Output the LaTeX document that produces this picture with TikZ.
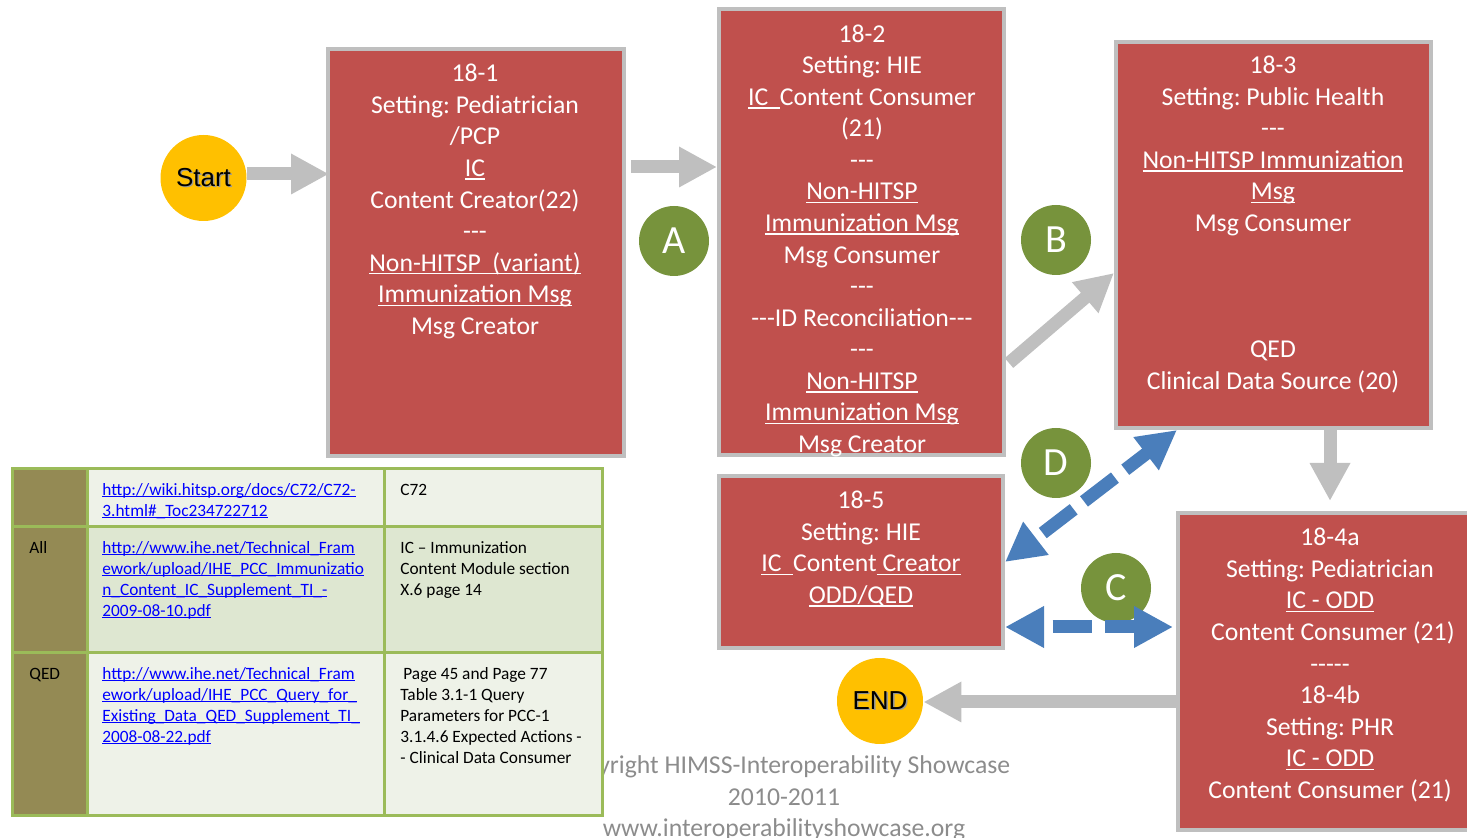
\documentclass[tikz,border=0pt]{standalone}
\usepackage{fontspec}
\setmainfont{Carlito}[Ligatures=TeXOff]
\newfontfamily\arialf{Liberation Sans}
\usetikzlibrary{arrows.meta}
\definecolor{boxred}{HTML}{C0504D}
\definecolor{boxgray}{HTML}{BFBFBF}
\definecolor{arrgray}{HTML}{BFBFBF}
\definecolor{lettergreen}{HTML}{77933C}
\definecolor{gold}{HTML}{FFC000}
\definecolor{arrblue}{HTML}{4A7EBB}
\definecolor{olivecell}{HTML}{948A54}
\definecolor{cellA}{HTML}{EEF2E8}
\definecolor{cellB}{HTML}{DEE7D1}
\definecolor{tblgreen}{HTML}{9BBB59}
\definecolor{cpgray}{HTML}{8C8C8C}
\definecolor{linkblue}{HTML}{0000FF}
\newcommand\myul[1]{\setbox0=\hbox{#1}\rlap{\rule[-0.13em]{\wd0}{0.055em}}\box0}
\newcommand\shtext[1]{\rlap{\hspace{0.7pt}\raisebox{-0.7pt}{\textcolor{black!40}{#1}}}#1}
\frenchspacing
\begin{document}
\begin{tikzpicture}[x=0.5pt,y=-0.5pt,
  stepbox/.style={draw=boxgray,line width=2pt,fill=boxred,rectangle,inner sep=0pt},
  boxtext/.style={text=white,align=center,inner sep=0pt,font=\fontsize{12.85}{15.77}\selectfont},
  cptext/.style={text=cpgray,align=center,inner sep=0pt,font=\fontsize{12.85}{15.77}\selectfont},
  tbltext/.style={anchor=north west,inner sep=0pt,align=left,font=\fontsize{8.65}{10.5}\selectfont},
  linktext/.style={tbltext,text=linkblue},
  goldc/.style={circle,fill=gold,minimum size=43pt,inner sep=0pt,font=\arialf\fontsize{13}{15}\selectfont},
  letterc/.style={circle,fill=lettergreen,minimum size=35pt,inner sep=0pt,text=white,font=\fontsize{20}{24}\selectfont},
  fatgray/.style={draw=arrgray,line width=6.5pt,-{Triangle[length=19pt,width=19pt]}},
  bluedash/.style={draw=arrblue,line width=6.5pt,{Triangle[length=19.5pt,width=19.5pt]}-{Triangle[length=19.5pt,width=19.5pt]},dash pattern=on 19.5pt off 6.5pt,dash phase=20.5pt}
]
\useasboundingbox (0,0) rectangle (1467,838);

% copyright (partly hidden by the table)
\node[cptext] (copy) at (784,799) {\strut Copyright HIMSS-Interoperability Showcase\\2010-2011\\www.interoperabilityshowcase.org\strut};

% table
\fill[olivecell] (12,469) rectangle (87,815);
\fill[cellA] (87,469) rectangle (602,527);
\fill[cellB] (87,527) rectangle (602,653);
\fill[cellA] (87,653) rectangle (602,815);
\draw[tblgreen,line width=1.5pt] (12,469) rectangle (602,815);
\draw[tblgreen,line width=1.5pt] (87,469) -- (87,815) (384,469) -- (384,815)
  (12,527) -- (602,527) (12,653) -- (602,653);

\node[tbltext] (r2c1) at (29,538) {\strut All};
\node[tbltext] (r3c1) at (29,664) {\strut QED};
\node[linktext] (r1c2) at (102,480) {\strut\myul{http://wiki.hitsp.org/docs/C72/C72-}\\\myul{3.html\#\_Toc234722712}};
\node[linktext] (r2c2) at (102,538) {\strut\myul{http://www.ihe.net/Technical\_Fram}\\\myul{ework/upload/IHE\_PCC\_Immunizatio}\\\myul{n\_Content\_IC\_Supplement\_TI\_-}\\\myul{2009-08-10.pdf}};
\node[linktext] (r3c2) at (102,664) {\strut\myul{http://www.ihe.net/Technical\_Fram}\\\myul{ework/upload/IHE\_PCC\_Query\_for\_}\\\myul{Existing\_Data\_QED\_Supplement\_TI\_}\\\myul{2008-08-22.pdf}};
\node[tbltext] (r1c3) at (400,480) {\strut C72};
\node[tbltext] (r2c3) at (400,538) {\strut IC – Immunization\\Content Module section\\X.6 page 14};
\node[tbltext] (r3c3) at (400,664) {\strut\hspace{1.5pt}Page 45 and Page 77\\Table 3.1-1 Query\\Parameters for PCC-1\\3.1.4.6 Expected Actions -\\- Clinical Data Consumer};

% boxes
\node[stepbox,minimum width=148pt,minimum height=203.5pt] (box1) at (476,252.5) {};
\node[stepbox,minimum width=142.5pt,minimum height=223pt] (box2) at (861.5,232) {};
\node[stepbox,minimum width=157.5pt,minimum height=193pt] (box3) at (1273.5,235) {};
\node[stepbox,minimum width=142pt,minimum height=86pt] (box5) at (861,562) {};
\node[stepbox,minimum width=152pt,minimum height=158.5pt] (box4) at (1330,671.5) {};

\node[boxtext] (t1) at (475,201.7) {\strut 18-1\\Setting: Pediatrician\\/PCP\\\myul{IC}\\Content Creator(22)\\---\\\myul{Non-HITSP\ \ (variant)}\\\myul{Immunization Msg}\\Msg Creator\strut};
\node[boxtext] (t2) at (862,241) {\strut 18-2\\Setting: HIE\\\myul{IC\ \ }Content Consumer\\(21)\\---\\\myul{Non-HITSP}\\\myul{Immunization Msg}\\Msg Consumer\\---\\---ID Reconciliation---\\---\\\myul{Non-HITSP}\\\myul{Immunization Msg}\\Msg Creator\strut};
\node[boxtext] (t3) at (1273,225) {\strut 18-3\\Setting: Public Health\\---\\\myul{Non-HITSP Immunization}\\\myul{Msg}\\Msg Consumer\\\strut\\\strut\\\strut\\QED\\Clinical Data Source (20)\strut};
\node[boxtext] (t5) at (861,549.7) {\strut 18-5\\Setting: HIE\\\myul{IC\ \ }Content\myul{\ Creator}\\\myul{ODD/QED}\strut};
\node[boxtext] (t4) at (1330,665.7) {\strut 18-4a\\Setting: Pediatrician\\\myul{IC - ODD}\\\ Content Consumer (21)\\-----\\18-4b\\Setting: PHR\\\myul{IC - ODD}\\Content Consumer (21)\strut};

% circles
\node[goldc] (start) at (203.5,178) {\shtext{Start}};
\node[goldc] (end) at (880,701) {\shtext{END}};
\node[letterc] (la) at (674,241) {A};
\node[letterc] (lb) at (1056,240) {B};
\node[letterc] (ld) at (1056,463) {D};
\node[letterc] (lc) at (1116,588) {C};

% gray flow arrows
\draw[fatgray] (start.east |- 0,174) -- ([xshift=1.5pt]box1.west |- 0,174);
\draw[fatgray] ([xshift=2.5pt]box1.east |- 0,167) -- (box2.west |- 0,167);
\draw[fatgray] ([xshift=1.5pt]box2.east |- 0,363) -- (box3.west |- 0,273);
\draw[fatgray] (box4.north |- box3.south) -- ([yshift=5pt]box4.north);
\draw[fatgray] (box4.west |- 0,702) -- (end.east |- 0,702);

% blue dashed double arrows
\draw[bluedash] (box5.east |- 0,562) -- (1177,0 |- box3.south);
\draw[bluedash] (box5.east |- 0,627) -- ([xshift=-1.5pt]box4.west |- 0,627);
\end{tikzpicture}
\end{document}
